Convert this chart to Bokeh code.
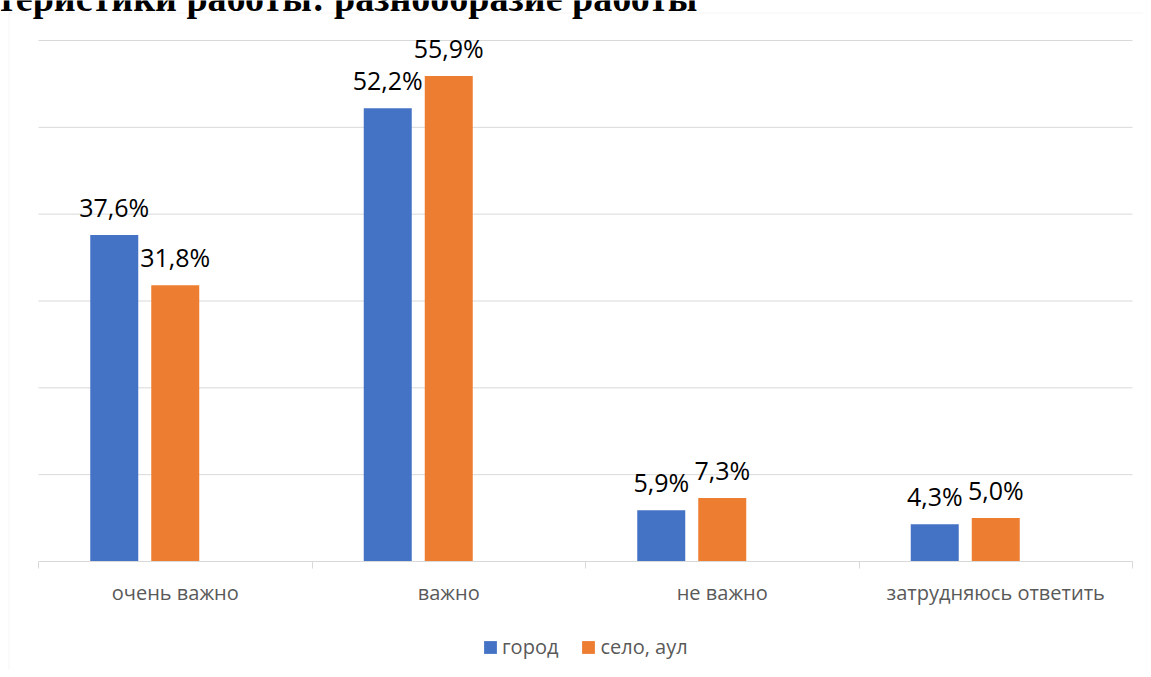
from bokeh.plotting import figure
from bokeh.models import (Range1d, FixedTicker, LinearAxis, ColumnDataSource,
                          Legend, LegendItem, Label, BoxAnnotation)
from bokeh.core.properties import value
from bokeh.embed import file_html
from bokeh.resources import INLINE

# ---- data ----
categories = ["очень важно", "важно", "не важно", "затрудняюсь ответить"]
series_names = ["город", "село, аул"]
gorod = [37.6, 52.2, 5.9, 4.3]
selo = [31.8, 55.9, 7.3, 5.0]
grid_values = [10, 20, 30, 40, 50, 60]
title_text = "Характеристики работы: разнообразие работы"

# ---- layout (pixels) ----
W, H = 1143, 669
PLOT_L, PLOT_R = 38, 1132
PLOT_T, PLOT_B = 40, 561
Y_MAX = 60
n = len(categories)
ppx = (PLOT_R - PLOT_L) / n
ppy = (PLOT_B - PLOT_T) / Y_MAX
BAR_W = 48 / ppx
OFFSET = 61 / ppx

GRAY_LINE = "#d9d9d9"
TEXT_GRAY = "#595959"
BLUE = "#4472C4"
ORANGE = "#ED7D31"
FONT = "Open Sans"

def fmt(v):
    return f"{v:.1f}%".replace(".", ",")

centers = [i + 0.5 for i in range(n)]
src_g = ColumnDataSource(dict(x=[c - OFFSET for c in centers], y=gorod,
                              lab=[fmt(v) for v in gorod]))
src_s = ColumnDataSource(dict(x=centers, y=selo, lab=[fmt(v) for v in selo]))

p = figure(width=W, height=H,
           x_range=Range1d(-PLOT_L / ppx, n + (W - PLOT_R) / ppx),
           y_range=Range1d(-(H - PLOT_B) / ppy, Y_MAX + PLOT_T / ppy),
           output_backend="svg", toolbar_location=None,
           x_axis_type=None, y_axis_type=None, min_border=0,
           outline_line_color=None, background_fill_color="white",
           border_fill_color="white")

# gridlines
p.segment(x0=0, x1=n, y0=grid_values, y1=grid_values,
          line_color=GRAY_LINE, line_width=1)

# bars
r1 = p.vbar(x="x", top="y", width=BAR_W, source=src_g,
            fill_color=BLUE, line_color=None)
r2 = p.vbar(x="x", top="y", width=BAR_W, source=src_s,
            fill_color=ORANGE, line_color=None)

# data labels
for src in (src_g, src_s):
    p.text(x="x", y="y", text="lab", source=src, text_align="center",
           text_baseline="alphabetic", y_offset=-28,
           text_font=value(FONT), text_font_size="25px", text_color="#000000")

# x axis at y=0
xaxis = LinearAxis(fixed_location=0,
                   ticker=FixedTicker(ticks=centers, minor_ticks=list(range(n + 1))),
                   bounds=(0, n),
                   axis_line_color=GRAY_LINE,
                   major_tick_line_color=None, major_tick_in=0, major_tick_out=0,
                   minor_tick_line_color=GRAY_LINE, minor_tick_in=0, minor_tick_out=7,
                   major_label_standoff=10,
                   major_label_text_font=FONT, major_label_text_font_size="20px",
                   major_label_text_color=TEXT_GRAY,
                   major_label_overrides={c: cat for c, cat in zip(centers, categories)})
p.add_layout(xaxis, "below")

# legend
legend = Legend(items=[LegendItem(label=series_names[0], renderers=[r1]),
                       LegendItem(label=series_names[1], renderers=[r2])],
                orientation="horizontal", location=(482, H - 660),
                glyph_width=16, glyph_height=16, label_standoff=4, spacing=22,
                padding=0, margin=0, border_line_color=None,
                background_fill_alpha=0, label_text_font=FONT,
                label_text_font_size="20px", label_text_color=TEXT_GRAY,
                label_height=20)
p.add_layout(legend)

# chart frame border (left and top)
p.add_layout(BoxAnnotation(left=8.5, right=W + 50, top=H - 12.5, bottom=-50,
                           left_units="screen", right_units="screen",
                           top_units="screen", bottom_units="screen",
                           fill_color=None, line_color=GRAY_LINE, line_width=1))

# document title above the chart (cropped in the reference)
p.add_layout(Label(x=697, y=H + 3, x_units="screen", y_units="screen",
                   text=title_text, text_align="right", text_baseline="alphabetic",
                   text_font="Liberation Serif", text_font_style="bold",
                   text_font_size="38px", text_color="#000000"))

open("out.html", "w").write(file_html(p, INLINE))
